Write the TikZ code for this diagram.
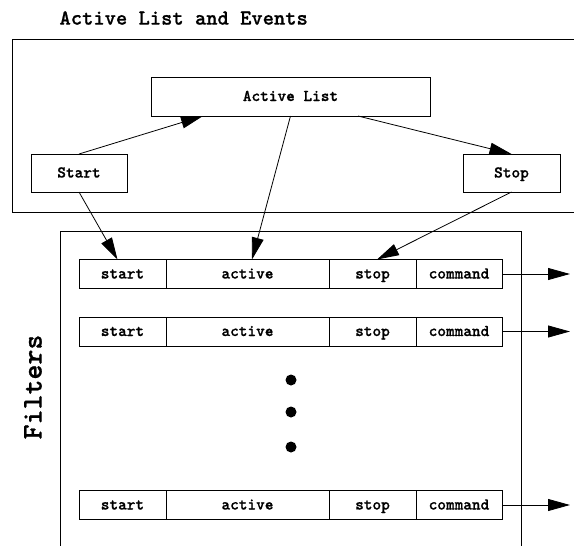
\documentclass[tikz,border=0pt]{standalone}
\usepackage{fontspec}
\setmonofont{lmmonolt10-bold.otf}[FakeBold=0.8]
\usetikzlibrary{positioning,arrows.meta,calc}

\begin{document}
\begin{tikzpicture}[
  x=1pt,y=-1pt,
  frame/.style={draw,line width=0.8pt,inner sep=0pt,outer sep=0pt},
  box/.style={draw,line width=0.8pt,outer sep=0pt,text height=10pt,text depth=1pt,
    font=\ttfamily\fontsize{16.5}{18}\selectfont},
  cell/.style={box,minimum height=29pt,inner sep=0pt},
  arr/.style={-{Triangle[length=22pt,width=12pt]},line width=0.8pt},
  dot/.style={circle,fill,inner sep=0pt,minimum size=11pt},
  node distance=0pt
]
\useasboundingbox (0,0) rectangle (574,546);
\clip (0,0) rectangle (574,546);
\node[anchor=west,font=\ttfamily\fontsize{21.5}{24}\selectfont] (title) at (56,18) {Active List and Events};
\node[frame,anchor=north west,minimum width=588pt,minimum height=173pt] (events) at (12,39) {};
\node[box,minimum width=279pt,minimum height=39pt] (list) at (290.5,96.5) {Active List};
\node[box,minimum width=96pt,minimum height=38pt] (start) at (79,173) {Start};
\node[box,minimum width=97pt,minimum height=38pt] (stop) at (511.5,173) {Stop};
\node[frame,anchor=north west,minimum width=461pt,minimum height=369pt] (filters) at (60,231) {};
\node[rotate=90,font=\ttfamily\fontsize{28.5}{30}\selectfont] (flabel) at (33,387) {Filters};

\foreach \r/\y in {a/274,b/331.5,c/505}{
  \node[cell,minimum width=87pt,anchor=west] (st\r) at (79,\y) {start};
  \node[cell,minimum width=163pt,right=of st\r] (ac\r) {active};
  \node[cell,minimum width=87pt,right=of ac\r] (sp\r) {stop};
  \node[cell,minimum width=86pt,right=of sp\r] (cm\r) {command};
  \coordinate (out\r) at (570,\y);
  \draw[arr] (cm\r) -- (out\r);
}
\foreach \y [count=\i] in {380,412,447}
  \node[dot] (dot\i) at (291,\y) {};

\draw[arr] (start.north) -- ([xshift=-87.5pt]list.south);
\draw[arr] ([xshift=67.5pt]list.south) -- (stop.north);
\draw[arr] (list.south) -- ([xshift=4.5pt]aca.north);
\draw[arr] (start.south) -- ([xshift=-5pt]sta.north);
\draw[arr] (stop.south) -- ([xshift=4.5pt]spa.north);
\end{tikzpicture}
\end{document}
